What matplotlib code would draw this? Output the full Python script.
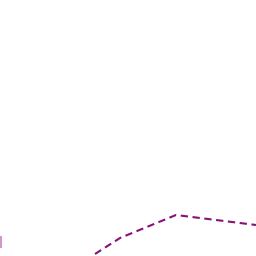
import matplotlib
matplotlib.use("Agg")
import matplotlib.pyplot as plt

# visible fragment of the series (x, y in chart pixel units)
line_x = [95, 120, 176, 256]
line_y = [254, 238, 215, 225]

# faint edge mark at the left border
edge_x = [0.5, 0.5]
edge_y = [237, 247]

fig = plt.figure(figsize=(2.56, 2.56), dpi=100)
ax = fig.add_axes([0, 0, 1, 1])
ax.set_xlim(0, 256)
ax.set_ylim(256, 0)
ax.axis('off')

ax.plot(line_x, line_y, color='#881177', linewidth=1.5, dashes=(3.5, 2.2))
ax.plot(edge_x, edge_y, color='#c77fc0', linewidth=1.5, alpha=0.8)

fig.savefig('out.png', dpi=100)
plt.close(fig)
